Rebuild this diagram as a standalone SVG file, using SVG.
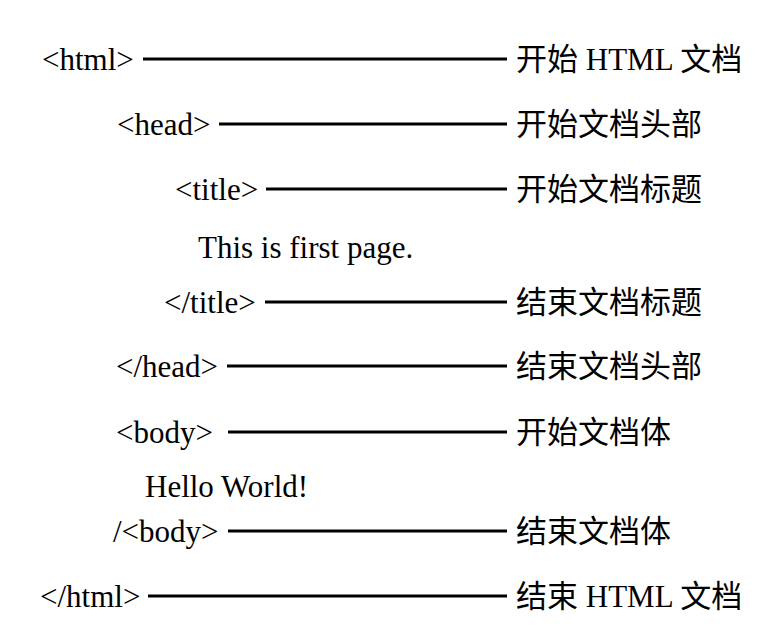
<svg xmlns="http://www.w3.org/2000/svg" width="782" height="627" viewBox="0 0 782 627">
<style>
.t{font-family:"Liberation Serif","Times New Roman",serif;font-size:31px;fill:#000}
.c{font-family:"Liberation Serif","Noto Sans CJK SC",serif;font-size:31px;fill:#000}
.ln{stroke:#000;stroke-width:3;fill:none}
</style>
<rect width="782" height="627" fill="#fff"/>
<g id="connectors">
<line class="ln" x1="143" y1="59" x2="507" y2="59"/>
<line class="ln" x1="219" y1="124" x2="507" y2="124"/>
<line class="ln" x1="266" y1="189" x2="507" y2="189"/>
<line class="ln" x1="265" y1="302" x2="507" y2="302"/>
<line class="ln" x1="227" y1="366" x2="507" y2="366"/>
<line class="ln" x1="228" y1="432" x2="507" y2="432"/>
<line class="ln" x1="228" y1="531" x2="507" y2="531"/>
<line class="ln" x1="148" y1="596" x2="507" y2="596"/>
</g>
<g id="html-open"><text class="t" x="42" y="70">&lt;html&gt;</text><text class="c" x="516" y="70">开始 HTML 文档</text></g>
<g id="head-open"><text class="t" x="117" y="135">&lt;head&gt;</text><text class="c" x="516" y="135">开始文档头部</text></g>
<g id="title-open"><text class="t" x="175" y="200">&lt;title&gt;</text><text class="c" x="516" y="200">开始文档标题</text></g>
<g id="title-text"><text class="t" x="198" y="258">This is first page.</text></g>
<g id="title-close"><text class="t" x="164" y="313">&lt;/title&gt;</text><text class="c" x="516" y="313">结束文档标题</text></g>
<g id="head-close"><text class="t" x="116" y="377">&lt;/head&gt;</text><text class="c" x="516" y="377">结束文档头部</text></g>
<g id="body-open"><text class="t" x="116" y="443">&lt;body&gt;</text><text class="c" x="516" y="443">开始文档体</text></g>
<g id="body-text"><text class="t" x="145" y="497">Hello World!</text></g>
<g id="body-close"><text class="t" x="113" y="542">/&lt;body&gt;</text><text class="c" x="516" y="542">结束文档体</text></g>
<g id="html-close"><text class="t" x="40" y="607">&lt;/html&gt;</text><text class="c" x="516" y="607">结束 HTML 文档</text></g>
</svg>
